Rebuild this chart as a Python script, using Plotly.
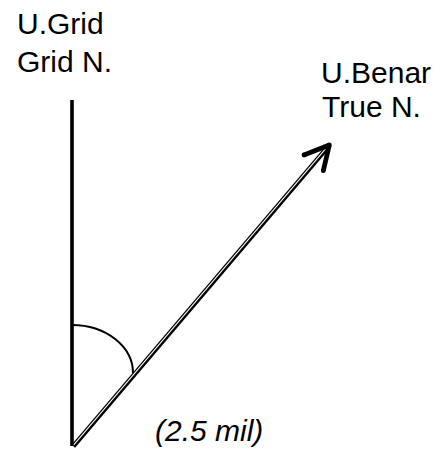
import plotly.graph_objects as go

# ---- diagram data (pixel-like units, y grows downward) ----
GRID_N_X = [72, 72]
GRID_N_Y = [100, 446]

# True-north shaft drawn as a double line (thin + thick)
SHAFT_THIN_X = [72.0, 328.0]
SHAFT_THIN_Y = [445.2, 144.2]
SHAFT_THICK_X = [74.2, 330.2]
SHAFT_THICK_Y = [447.0, 146.0]

ARROW_HEAD_X = [304, 329.3, 323.3]
ARROW_HEAD_Y = [155, 145, 170.7]

# angle arc (cubic Bezier control points)
ARC_X = [72, 105.7, 133, 133]
ARC_Y = [325, 325, 346.5, 373]

LABEL_TEXT = ["U.Grid", "Grid N.", "U.Benar", "True N.", "<i>(2.5 mil)</i>"]
LABEL_X = [15, 15, 319, 320, 153]
LABEL_Y = [23, 61, 72, 106, 430]

FONT = "Arial, 'Liberation Sans', sans-serif"

fig = go.Figure()

fig.add_trace(go.Scatter(x=GRID_N_X, y=GRID_N_Y, mode="lines",
                         line=dict(color="black", width=3.6),
                         hoverinfo="skip", showlegend=False))
fig.add_trace(go.Scatter(x=SHAFT_THIN_X, y=SHAFT_THIN_Y, mode="lines",
                         line=dict(color="black", width=1.3),
                         hoverinfo="skip", showlegend=False))
fig.add_trace(go.Scatter(x=SHAFT_THICK_X, y=SHAFT_THICK_Y, mode="lines",
                         line=dict(color="black", width=2.4),
                         hoverinfo="skip", showlegend=False))
fig.add_trace(go.Scatter(x=ARROW_HEAD_X, y=ARROW_HEAD_Y, mode="lines+markers",
                         line=dict(color="black", width=4.8),
                         marker=dict(color="black", size=4.8),
                         hoverinfo="skip", showlegend=False))

arc_path = "M {} {} C {} {} {} {} {} {}".format(
    ARC_X[0], ARC_Y[0], ARC_X[1], ARC_Y[1], ARC_X[2], ARC_Y[2], ARC_X[3], ARC_Y[3])
fig.add_shape(type="path", path=arc_path, xref="x", yref="y",
              line=dict(color="black", width=2))

for t, x, y in zip(LABEL_TEXT, LABEL_X, LABEL_Y):
    fig.add_annotation(text=t, x=x, y=y, xref="x", yref="y",
                       xanchor="left", yanchor="middle", showarrow=False,
                       font=dict(family=FONT, size=30, color="black"))

fig.update_layout(
    width=440, height=449,
    margin=dict(l=0, r=0, t=0, b=0),
    paper_bgcolor="white", plot_bgcolor="white",
    xaxis=dict(range=[0, 440], visible=False, fixedrange=True),
    yaxis=dict(range=[449, 0], visible=False, fixedrange=True),
)

fig.write_html("out.html", config={"displayModeBar": False})

# remove the default page margin so the figure fills the window exactly
with open("out.html", "r", encoding="utf-8") as f:
    html = f.read()
html = html.replace("<head>", "<head><style>html,body{margin:0;padding:0;overflow:hidden;}</style>", 1)
with open("out.html", "w", encoding="utf-8") as f:
    f.write(html)
